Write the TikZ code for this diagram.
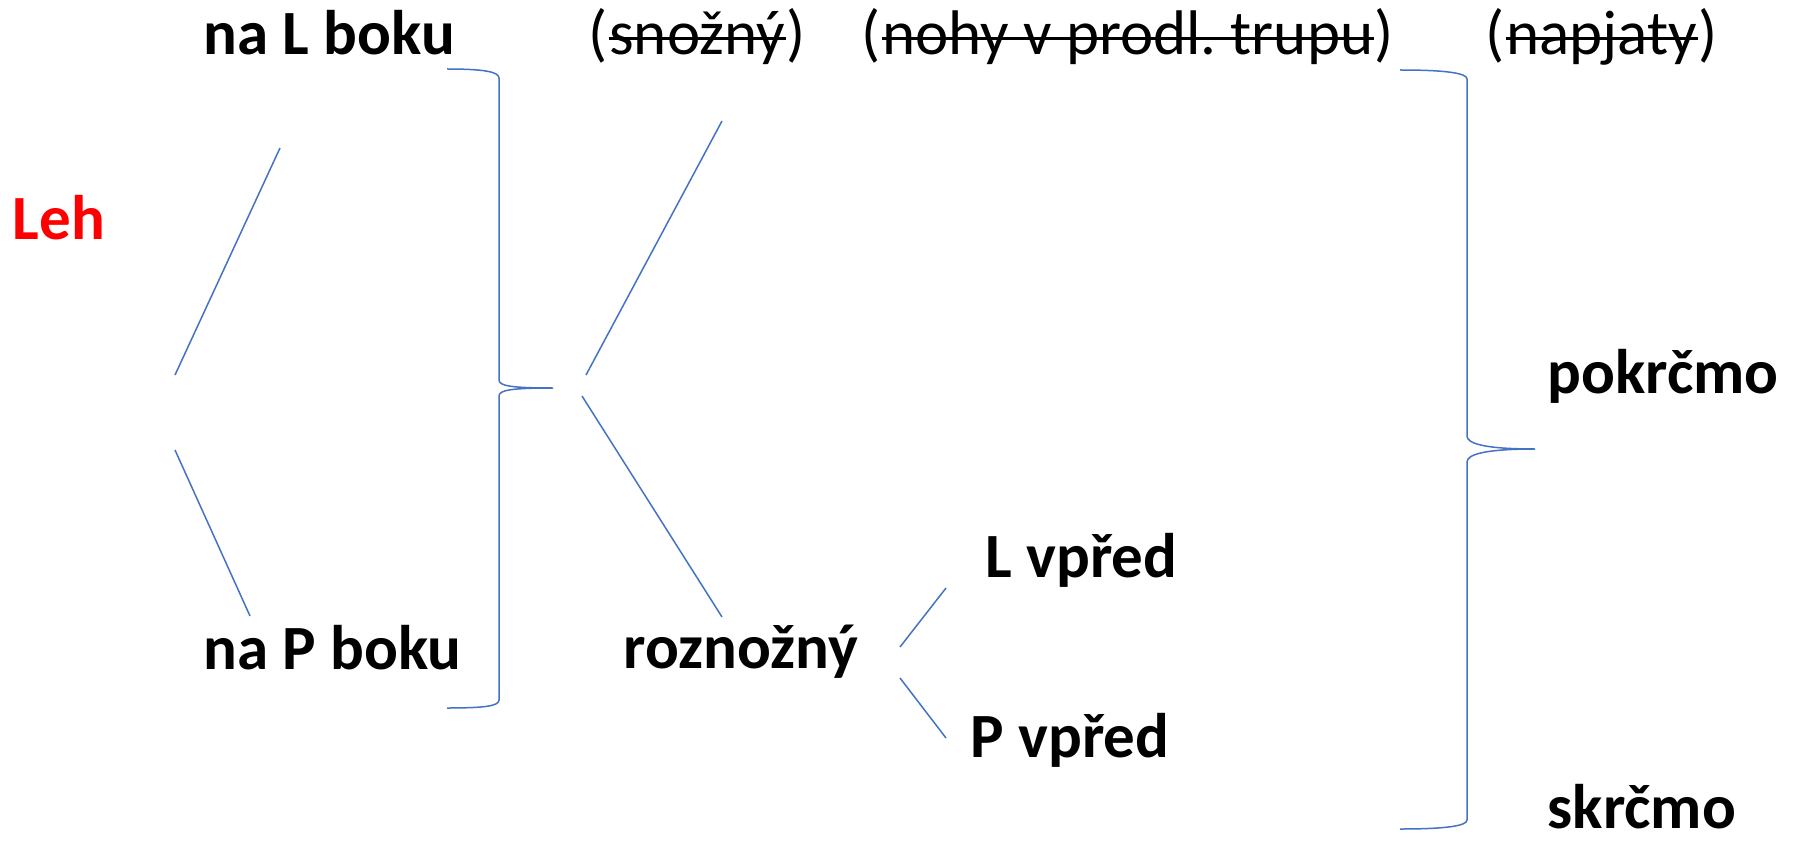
\documentclass[tikz,border=0pt]{standalone}
\usepackage{fontspec}
\setmainfont{Carlito}
\frenchspacing
\definecolor{carablue}{RGB}{68,114,196}
\definecolor{lehred}{RGB}{255,0,0}
\tikzset{every picture/.style={line width=1.5pt}}
\tikzset{
	txt/.style={anchor=base west,inner sep=0pt,font=\fontsize{63}{76}\selectfont\bfseries},
	txtn/.style={anchor=base west,inner sep=0pt,font=\fontsize{63}{76}\selectfont},
	carta/.style={draw=carablue,line width=1.5pt},
	skrt/.style={draw=black,line width=3pt}
}

\begin{document}
\begin{tikzpicture}[x=1pt,y=-1pt]
	\useasboundingbox (0,0) rectangle (1803,842);
	%Leh
	\node[txt,text=lehred] (leh) at (12,240) {Leh};
	%Bok
	\node[txt] (naL) at (203,55) {na L boku};
	\node[txt] (naP) at (203,669) {na P boku};
	%Carta 1,2
	\coordinate (l1a) at (175,375); \coordinate (l1b) at (280,148);
	\coordinate (l2a) at (175,450); \coordinate (l2b) at (250,616);
	\draw[carta] (l1a)--(l1b);
	\draw[carta] (l2a)--(l2b);
	%Zavorka 1
	\draw[carta] (447,69) .. controls (485,69) and (499,72) .. (499,78) -- (499,380)
		.. controls (499,386) and (512,388) .. (553,388)
		.. controls (512,388) and (499,390) .. (499,396) -- (499,700)
		.. controls (499,706) and (485,708) .. (447,708);
	%Nohy (preskrtnute)
	\node[txtn] (sz1) at (588,55) {(};
	\node[txtn] (snozny) at (sz1.base east) {snožný};
	\node[txtn] (sz2) at (snozny.base east) {)};
	\draw[skrt] ([yshift=16pt]snozny.base west)--([yshift=16pt]snozny.base east);
	\node[txtn] (nz1) at (861,55) {(};
	\node[txtn] (nohy) at (nz1.base east) {nohy v prodl. trupu};
	\node[txtn] (nz2) at (nohy.base east) {)};
	\draw[skrt] ([yshift=16pt]nohy.base west)--([yshift=16pt]nohy.base east);
	\node[txt] (rozno) at (623,668) {roznožný};
	%Carta 3,4
	\coordinate (m1a) at (586,375); \coordinate (m1b) at (722,121);
	\coordinate (m2a) at (582,396); \coordinate (m2b) at (722,617);
	\draw[carta] (m1a)--(m1b);
	\draw[carta] (m2a)--(m2b);
	%Vpred
	\node[txt] (Lvpred) at (985,577) {L vpřed};
	\node[txt] (Pvpred) at (970,757) {P vpřed};
	%Carta 5,6
	\coordinate (r1a) at (900,647); \coordinate (r1b) at (946,588);
	\coordinate (r2a) at (900,678); \coordinate (r2b) at (946,738);
	\draw[carta] (r1a)--(r1b);
	\draw[carta] (r2a)--(r2b);
	%Zavorka 2
	\draw[carta] (1400,70) .. controls (1445,70) and (1467,73) .. (1467,79) -- (1467,436)
		.. controls (1467,443) and (1482,449) .. (1535,449)
		.. controls (1482,449) and (1467,455) .. (1467,462) -- (1467,820)
		.. controls (1467,826) and (1445,829) .. (1400,829);
	%Kolena
	\node[txtn] (nj1) at (1485,55) {(};
	\node[txtn] (napjaty) at (nj1.base east) {napjaty};
	\node[txtn] (nj2) at (napjaty.base east) {)};
	\draw[skrt] ([yshift=16pt]napjaty.base west)--([yshift=16pt]napjaty.base east);
	\node[txt] (pokrcmo) at (1547,393) {pokrčmo};
	\node[txt] (skrcmo) at (1547,828) {skrčmo};
\end{tikzpicture}
\end{document}
